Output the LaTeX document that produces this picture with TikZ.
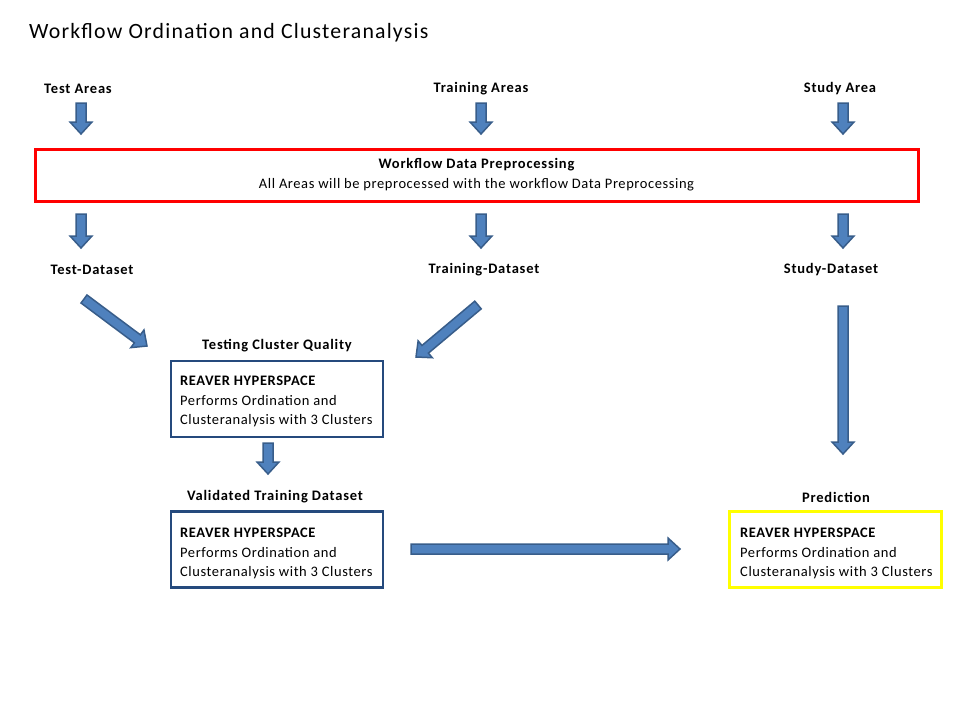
\documentclass[tikz,border=0pt]{standalone}
\usepackage{fontspec}
\setmainfont{Carlito}[LetterSpace=4]
\newfontfamily\lblfont{Carlito}[LetterSpace=5.5]
\newfontfamily\titlefont{Carlito}[LetterSpace=5.5]
\usetikzlibrary{calc}
\definecolor{afill}{HTML}{4F81BD}
\definecolor{aline}{HTML}{385D8A}
\definecolor{navy}{HTML}{254A7D}
\definecolor{boxred}{HTML}{FF0000}
\definecolor{boxyellow}{HTML}{FFFF00}
\newcommand\blockarrow[2]{%
  \filldraw[barrow] let \p1=($(#2)-(#1)$), \n1={atan2(\y1,\x1)}, \n2={veclen(\x1,\y1)-12pt} in
  ($(#1)+(\n1+90:5pt)$) -- ($(#1)+(\n1:\n2)+(\n1+90:5pt)$) -- ($(#1)+(\n1:\n2)+(\n1+90:11pt)$) -- (#2)
  -- ($(#1)+(\n1:\n2)+(\n1-90:11pt)$) -- ($(#1)+(\n1:\n2)+(\n1-90:5pt)$) -- ($(#1)+(\n1-90:5pt)$) -- cycle;}
\tikzset{
  barrow/.style={fill=afill, draw=aline, line width=1.5pt, line join=miter},
  lbl/.style={font=\lblfont\fontsize{14.5}{17}\selectfont\bfseries, inner sep=0pt},
  boxtxt/.style={font=\fontsize{14.5}{19.5}\selectfont, align=left, anchor=west, inner sep=0pt},
  navybox/.style={draw=navy, line width=2.5pt, minimum width=212pt, minimum height=76pt, inner sep=0pt},
}
\begin{document}
\begin{tikzpicture}[x=1pt,y=1pt]
\useasboundingbox (0,0) rectangle (960,-720);
\node[anchor=west, inner sep=0pt, font=\titlefont\fontsize{21.8}{26}\selectfont] (title) at (29,-32.5) {Workflow Ordination and Clusteranalysis};

\node[lbl] (testA) at (78,-89) {Test Areas};
\node[lbl] (trainA) at (481,-89) {Training Areas};
\node[lbl] (studyA) at (840,-89) {Study Area};

\node[draw=boxred, line width=3pt, minimum width=883pt, minimum height=52pt, inner sep=0pt, align=center,
  font=\fontsize{14.5}{20}\selectfont] (prep) at (476.5,-175)
  {{\lblfont\bfseries Workflow Data Preprocessing}\\All Areas will be preprocessed with the workflow Data Preprocessing};

\node[lbl] (testD) at (92,-270) {Test-Dataset};
\node[lbl] (trainD) at (484,-270) {Training-Dataset};
\node[lbl] (studyD) at (831,-270) {Study-Dataset};

\node[lbl] (tcq) at (277,-346) {Testing Cluster Quality};
\node[navybox] (box1) at (277,-399) {};
\node[boxtxt] (t1) at (180,-401.5) {\textbf{REAVER HYPERSPACE}\\Performs Ordination and\\Clusteranalysis with 3 Clusters};

\node[lbl] (vtd) at (275,-497) {Validated Training Dataset};
\node[navybox] (box2) at (277,-549.5) {};
\node[boxtxt] (t2) at (180,-553.5) {\textbf{REAVER HYPERSPACE}\\Performs Ordination and\\Clusteranalysis with 3 Clusters};

\node[lbl] (pred) at (836,-497) {Prediction};
\node[navybox, draw=boxyellow] (box3) at (835.5,-549.5) {};
\node[boxtxt] (t3) at (740,-553.5) {\textbf{REAVER HYPERSPACE}\\Performs Ordination and\\Clusteranalysis with 3 Clusters};

% arrow end points
\coordinate (a1s) at (81,-103);  \coordinate (a1e) at (81,-134);
\coordinate (a2s) at (481,-103); \coordinate (a2e) at (481,-134);
\coordinate (a3s) at (843,-103); \coordinate (a3e) at (843,-134);
\coordinate (b1s) at (81,-214);  \coordinate (b1e) at (81,-248);
\coordinate (b2s) at (481,-214); \coordinate (b2e) at (481,-248);
\coordinate (b3s) at (843,-214); \coordinate (b3e) at (843,-248);
\coordinate (c1s) at (84,-299);  \coordinate (c1e) at (147,-346);
\coordinate (c2s) at (478,-305); \coordinate (c2e) at (416,-357);
\coordinate (c3s) at (843,-306); \coordinate (c3e) at (843,-454);
\coordinate (d1s) at (268,-443); \coordinate (d1e) at (268,-474);
\coordinate (e1s) at (411,-549); \coordinate (e1e) at (680,-549);

\blockarrow{a1s}{a1e}
\blockarrow{a2s}{a2e}
\blockarrow{a3s}{a3e}
\blockarrow{b1s}{b1e}
\blockarrow{b2s}{b2e}
\blockarrow{b3s}{b3e}
\blockarrow{c1s}{c1e}
\blockarrow{c2s}{c2e}
\blockarrow{c3s}{c3e}
\blockarrow{d1s}{d1e}
\blockarrow{e1s}{e1e}
\end{tikzpicture}
\end{document}
